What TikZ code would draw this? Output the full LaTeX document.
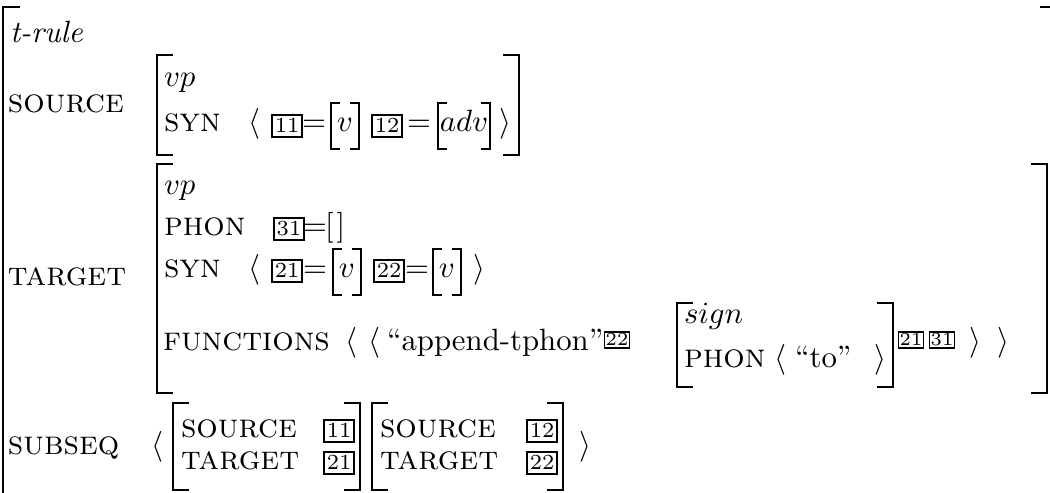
\documentclass[tikz,border=0pt]{standalone}
\begin{document}
\begin{tikzpicture}[x=0.325pt,y=-0.325pt,
  brk/.style={line width=0.95pt, line join=miter},
  ibrk/.style={line width=0.8pt, line join=miter},
  txt/.style={anchor=base west, inner sep=0pt, outer sep=0pt},
  sym/.style={anchor=base, inner sep=0pt, outer sep=0pt},
  attr/.style={txt, font=\fontsize{10.95}{13}\selectfont\scshape},
  tagbig/.style={draw, line width=0.55pt, inner xsep=1pt, inner ysep=1.3pt,
    font=\scriptsize, text height=4.5pt, text depth=0pt, anchor=center},
  tagsmall/.style={draw, line width=0.5pt, inner xsep=0.4pt, inner ysep=0.7pt,
    font=\fontsize{6}{7}\selectfont, text height=3.9pt, text depth=0pt, anchor=center}]
\useasboundingbox (0,0) rectangle (1050,493);
\clip (0,0) rectangle (1050,493);

% bracket helpers: x, top, bottom, serif length, style
\newcommand{\avmL}[5]{\draw[#5] (#1+#4,#2) -- (#1,#2) -- (#1,#3) -- (#1+#4,#3);}
\newcommand{\avmR}[5]{\draw[#5] (#1-#4,#2) -- (#1,#2) -- (#1,#3) -- (#1-#4,#3);}

% outer structure
\avmL{3}{7}{520}{17}{brk}
\avmR{1054}{7}{520}{14}{brk}
\node[txt] (trule) at (10,43) {\textit{t-rule}};

% ---------------- SOURCE ----------------
\node[attr] (lsrc) at (8,113) {source};
\avmL{157}{55}{155}{16}{brk}
\avmR{519}{55}{155}{16}{brk}
\node[txt] (svp) at (164,87) {$vp$};
\node[attr] (ssyn) at (164,132) {syn};
\node[sym] (sla) at (254,132) {$\langle$};
\node[tagbig] (s11) at (287,126) {11};
\node[sym] (seq1) at (314,132) {$=$};
\avmL{331}{103}{149}{9}{ibrk}
\avmR{359}{103}{149}{9}{ibrk}
\node[sym] (sv) at (345,132) {$v$};
\node[tagbig] (s12) at (387,126) {12};
\node[sym] (seq2) at (419,132) {$=$};
\avmL{438}{103}{149}{9}{ibrk}
\avmR{490}{103}{149}{9}{ibrk}
\node[sym] (sadv) at (464,132) {$adv$};
\node[sym] (sra) at (505,132) {$\rangle$};

% ---------------- TARGET ----------------
\node[attr] (ltgt) at (8,286) {target};
\avmL{157}{164}{393}{16}{brk}
\avmR{1047}{164}{393}{16}{brk}
\node[txt] (tvp) at (164,195) {$vp$};
\node[attr] (tphon) at (164,236) {phon};
\node[tagbig] (t31) at (289,229) {31};
\node[sym] (teq0) at (315,236) {$=$};
\node[txt] (tnil) at (325,236) {[\hspace{1pt}]};

\node[attr] (tsyn) at (164,278) {syn};
\node[sym] (tla) at (254,278) {$\langle$};
\node[tagbig] (t21) at (287,271) {21};
\node[sym] (teq1) at (315,278) {$=$};
\avmL{333}{249}{295}{9}{ibrk}
\avmR{361}{249}{295}{9}{ibrk}
\node[sym] (tv1) at (347,278) {$v$};
\node[tagbig] (t22) at (389,271) {22};
\node[sym] (teq2) at (417,278) {$=$};
\avmL{433}{249}{295}{9}{ibrk}
\avmR{461}{249}{295}{9}{ibrk}
\node[sym] (tv2) at (447,278) {$v$};
\node[sym] (tra) at (479,278) {$\rangle$};

\node[attr] (tfun) at (163,351) {functions};
\node[sym] (fla1) at (351,351) {$\langle$};
\node[sym] (fla2) at (374,351) {$\langle$};
\node[txt] (fapp) at (387,351) {``append-tphon''};
\node[tagsmall] (f22) at (617,340) {22};
\avmL{677}{303}{387}{16}{brk}
\avmR{893}{303}{387}{16}{brk}
\node[txt] (fsign) at (684,324) {$sign$};
\node[attr] (fphon) at (684,368) {phon};
\node[sym] (fla3) at (780,368) {$\langle$};
\node[txt] (fto) at (795,368) {``to''};
\node[sym] (fra3) at (880,368) {$\rangle$};
\node[tagsmall] (f21) at (911,340) {21};
\node[tagsmall] (f31) at (942,340) {31};
\node[sym] (fra2) at (975,351) {$\rangle$};
\node[sym] (fra1) at (1003,351) {$\rangle$};

% ---------------- SUBSEQ ----------------
\node[attr] (lsub) at (8,455) {subseq};
\node[sym] (qla) at (157,455) {$\langle$};
\avmL{173}{403}{490}{16}{brk}
\avmR{360}{403}{490}{16}{brk}
\node[attr] (q1src) at (181,438) {source};
\node[attr] (q1tgt) at (181,470) {target};
\node[tagbig] (q11) at (339,431) {11};
\node[tagbig] (q21) at (339,463) {21};
\avmL{372}{403}{490}{16}{brk}
\avmR{563}{403}{490}{16}{brk}
\node[attr] (q2src) at (380,438) {source};
\node[attr] (q2tgt) at (380,470) {target};
\node[tagbig] (q12) at (542,431) {12};
\node[tagbig] (q22) at (542,463) {22};
\node[sym] (qra) at (585,455) {$\rangle$};
\end{tikzpicture}
\end{document}
